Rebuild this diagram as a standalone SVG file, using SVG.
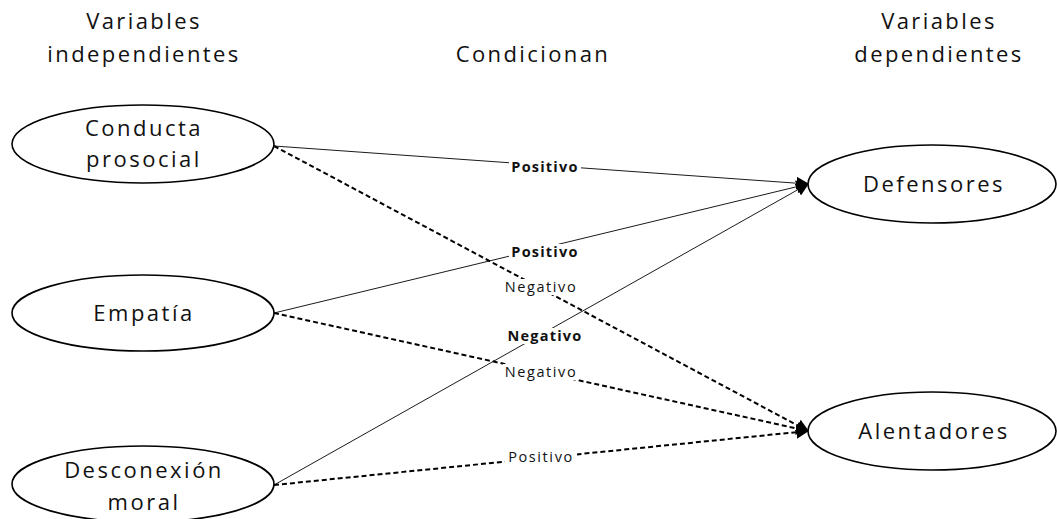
<svg xmlns="http://www.w3.org/2000/svg" width="1057" height="519" viewBox="0 0 1057 519">
  <style>
    .hdr { font-family: "Open Sans", "Liberation Sans", sans-serif; font-size: 22px; letter-spacing: 2.4px; fill: #111; text-anchor: middle; }
    .node ellipse { fill: #fff; stroke: #000; stroke-width: 1.6; }
    .node text { font-family: "Open Sans", "Liberation Sans", sans-serif; font-size: 22px; letter-spacing: 2.5px; fill: #111; text-anchor: middle; }
    .edge { stroke: #000; fill: none; }
    .solid { stroke-width: 0.9; }
    .dash { stroke-width: 2; stroke-dasharray: 5 3; }
    .lbl { font-family: "Open Sans", "Liberation Sans", sans-serif; font-size: 14.5px; letter-spacing: 1.6px; fill: #111; text-anchor: middle; }
    .b { font-weight: bold; letter-spacing: 1.2px; }
    .bg { fill: #fff; }
  </style>
  <defs>
    <marker id="arrow" viewBox="0 0 10 10" refX="9" refY="5" markerWidth="13" markerHeight="13" markerUnits="userSpaceOnUse" orient="auto">
      <path d="M0,0 L10,5 L0,10 z" fill="#000"/>
    </marker>
  </defs>
  <rect width="1057" height="519" fill="#fff"/>

  <!-- column headings -->
  <text class="hdr" x="144" y="29">Variables</text>
  <text class="hdr" x="144" y="62">independientes</text>
  <text class="hdr" x="533" y="62">Condicionan</text>
  <text class="hdr" x="939" y="29">Variables</text>
  <text class="hdr" x="939" y="62">dependientes</text>

  <!-- connectors -->
  <g id="connectors">
    <line class="edge solid" x1="274" y1="146" x2="808" y2="184" marker-end="url(#arrow)"/>
    <line class="edge solid" x1="274" y1="313" x2="808" y2="184" marker-end="url(#arrow)"/>
    <line class="edge solid" x1="274" y1="485" x2="808" y2="184" marker-end="url(#arrow)"/>
    <line class="edge dash" x1="274" y1="146" x2="808" y2="431" marker-end="url(#arrow)"/>
    <line class="edge dash" x1="274" y1="313" x2="808" y2="431" marker-end="url(#arrow)"/>
    <line class="edge dash" x1="274" y1="485" x2="808" y2="431" marker-end="url(#arrow)"/>

    <rect class="bg" x="509" y="159" width="72" height="16"/>
    <text class="lbl b" x="545" y="172">Positivo</text>
    <rect class="bg" x="509" y="244" width="72" height="16"/>
    <text class="lbl b" x="545" y="257">Positivo</text>
    <rect class="bg" x="503" y="279" width="76" height="16"/>
    <text class="lbl" x="541" y="292">Negativo</text>
    <rect class="bg" x="505" y="328" width="80" height="16"/>
    <text class="lbl b" x="545" y="341">Negativo</text>
    <rect class="bg" x="503" y="364" width="76" height="16"/>
    <text class="lbl" x="541" y="377">Negativo</text>
    <rect class="bg" x="505" y="449" width="72" height="16"/>
    <text class="lbl" x="541" y="462">Positivo</text>
  </g>

  <!-- independent variables -->
  <g id="conducta" class="node">
    <ellipse cx="143" cy="144" rx="131" ry="39"/>
    <text x="144" y="136">Conducta</text>
    <text x="144" y="167">prosocial</text>
  </g>
  <g id="empatia" class="node">
    <ellipse cx="143" cy="313" rx="131" ry="38"/>
    <text x="144" y="321">Empatía</text>
  </g>
  <g id="desconexion" class="node">
    <ellipse cx="143" cy="484" rx="131" ry="38"/>
    <text x="144" y="478">Desconexión</text>
    <text x="144" y="510">moral</text>
  </g>

  <!-- dependent variables -->
  <g id="defensores" class="node">
    <ellipse cx="932" cy="184" rx="124" ry="39"/>
    <text x="934" y="192">Defensores</text>
  </g>
  <g id="alentadores" class="node">
    <ellipse cx="932" cy="431" rx="124" ry="39"/>
    <text x="934" y="439">Alentadores</text>
  </g>
</svg>
